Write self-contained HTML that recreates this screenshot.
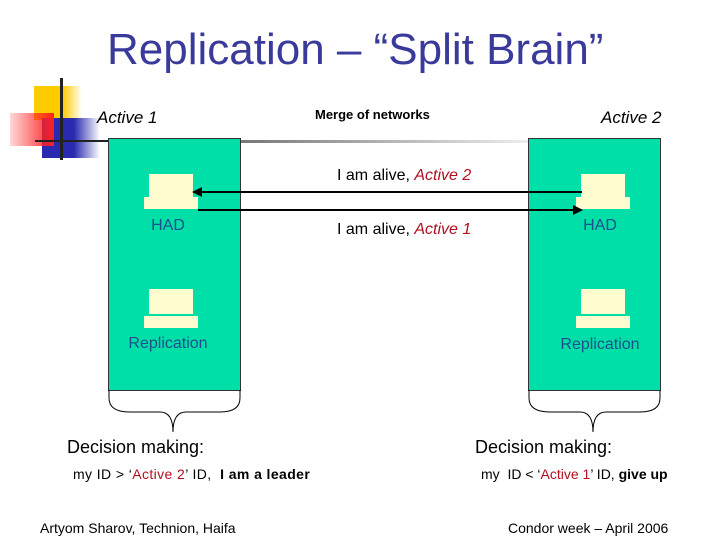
<!DOCTYPE html>
<html><head><style>
body{margin:0;width:720px;height:540px;background:#fff;position:relative;overflow:hidden;font-family:"Liberation Sans","DejaVu Sans",sans-serif}
.a{position:absolute;white-space:nowrap}
.box{position:absolute;background:#00dfa8;border:1px solid #333;width:131px;height:251px;top:138px}
.scr{position:absolute;background:#fffdd0;width:44px;height:25px}
.base{position:absolute;background:#fffdd0;width:54px;height:12px}
.lbl{color:#1f4e8c;font-size:16px;text-align:center;width:132px}
.red{color:#b01020}
</style></head><body>
<div class="a" style="left:107px;top:25px;font-size:44px;color:#3a3a9a">Replication – “Split Brain”</div>
<div class="a" style="left:34px;top:86px;width:48px;height:34px;background:linear-gradient(90deg,#ffcc00 60%,rgba(255,204,0,0))"></div>
<div class="a" style="left:42px;top:118px;width:58px;height:40px;background:linear-gradient(90deg,#2a2ab0 55%,rgba(42,42,176,0))"></div>
<div class="a" style="left:10px;top:113px;width:44px;height:33px;background:linear-gradient(90deg,rgba(255,60,60,0.2),#ff2020)"></div>
<div class="a" style="left:60px;top:78px;width:3px;height:82px;background:#222"></div>
<div class="a" style="left:35px;top:140px;width:74px;height:2px;background:#222"></div>
<div class="a" style="left:240px;top:140px;width:290px;height:3px;background:linear-gradient(90deg,#777,#eee)"></div>
<div class="a" style="left:97px;top:108px;font-size:17px;font-style:italic;color:#000">Active 1</div>
<div class="a" style="left:601px;top:108px;font-size:17px;font-style:italic;color:#000">Active 2</div>
<div class="a" style="left:315px;top:107px;font-size:13px;font-weight:bold">Merge of networks</div>
<div class="box" style="left:108px"></div>
<div class="box" style="left:528px"></div>
<div class="scr" style="left:149px;top:174px"></div><div class="base" style="left:144px;top:197px"></div>
<div class="scr" style="left:149px;top:289px"></div><div class="base" style="left:144px;top:316px"></div>
<div class="scr" style="left:581px;top:174px"></div><div class="base" style="left:576px;top:197px"></div>
<div class="scr" style="left:581px;top:289px"></div><div class="base" style="left:576px;top:316px"></div>
<div class="a lbl" style="left:102px;top:217px">HAD</div>
<div class="a lbl" style="left:102px;top:335px">Replication</div>
<div class="a lbl" style="left:534px;top:217px">HAD</div>
<div class="a lbl" style="left:534px;top:336px">Replication</div>
<div class="a" style="left:337px;top:167px;font-size:16px">I am alive, <i class="red">Active 2</i></div>
<div class="a" style="left:337px;top:221px;font-size:16px">I am alive, <i class="red">Active 1</i></div>
<svg class="a" style="left:0;top:0" width="720" height="540">
<line x1="582" y1="192" x2="200" y2="192" stroke="#000" stroke-width="2"/>
<polygon points="192,192 202,187 202,197" fill="#000"/>
<line x1="198" y1="210" x2="575" y2="210" stroke="#000" stroke-width="2"/>
<polygon points="583,210 573,205 573,215" fill="#000"/>
<path d="M109,390 V398 Q109,412 130,412 H160 Q173,412 173,432 Q173,412 186,412 H220 Q240,412 240,398 V390" fill="none" stroke="#000" stroke-width="1"/>
<path d="M529,390 V398 Q529,412 550,412 H580 Q593,412 593,432 Q593,412 606,412 H640 Q660,412 660,398 V390" fill="none" stroke="#000" stroke-width="1"/>
</svg>
<div class="a" style="left:67px;top:437px;font-size:18px">Decision making:</div>
<div class="a" style="left:475px;top:437px;font-size:18px">Decision making:</div>
<div class="a" style="left:73px;top:466px;font-size:14px;letter-spacing:0.4px">my ID &gt; ‘<span class="red">Active 2</span>’ ID,&nbsp; <b>I am a leader</b></div>
<div class="a" style="left:481px;top:466px;font-size:14px">my&nbsp; ID &lt; ‘<span class="red">Active 1</span>’ ID, <b>give up</b></div>
<div class="a" style="left:40px;top:520px;font-size:14px">Artyom Sharov, Technion, Haifa</div>
<div class="a" style="left:508px;top:520px;font-size:14px">Condor week – April 2006</div>
</body></html>
